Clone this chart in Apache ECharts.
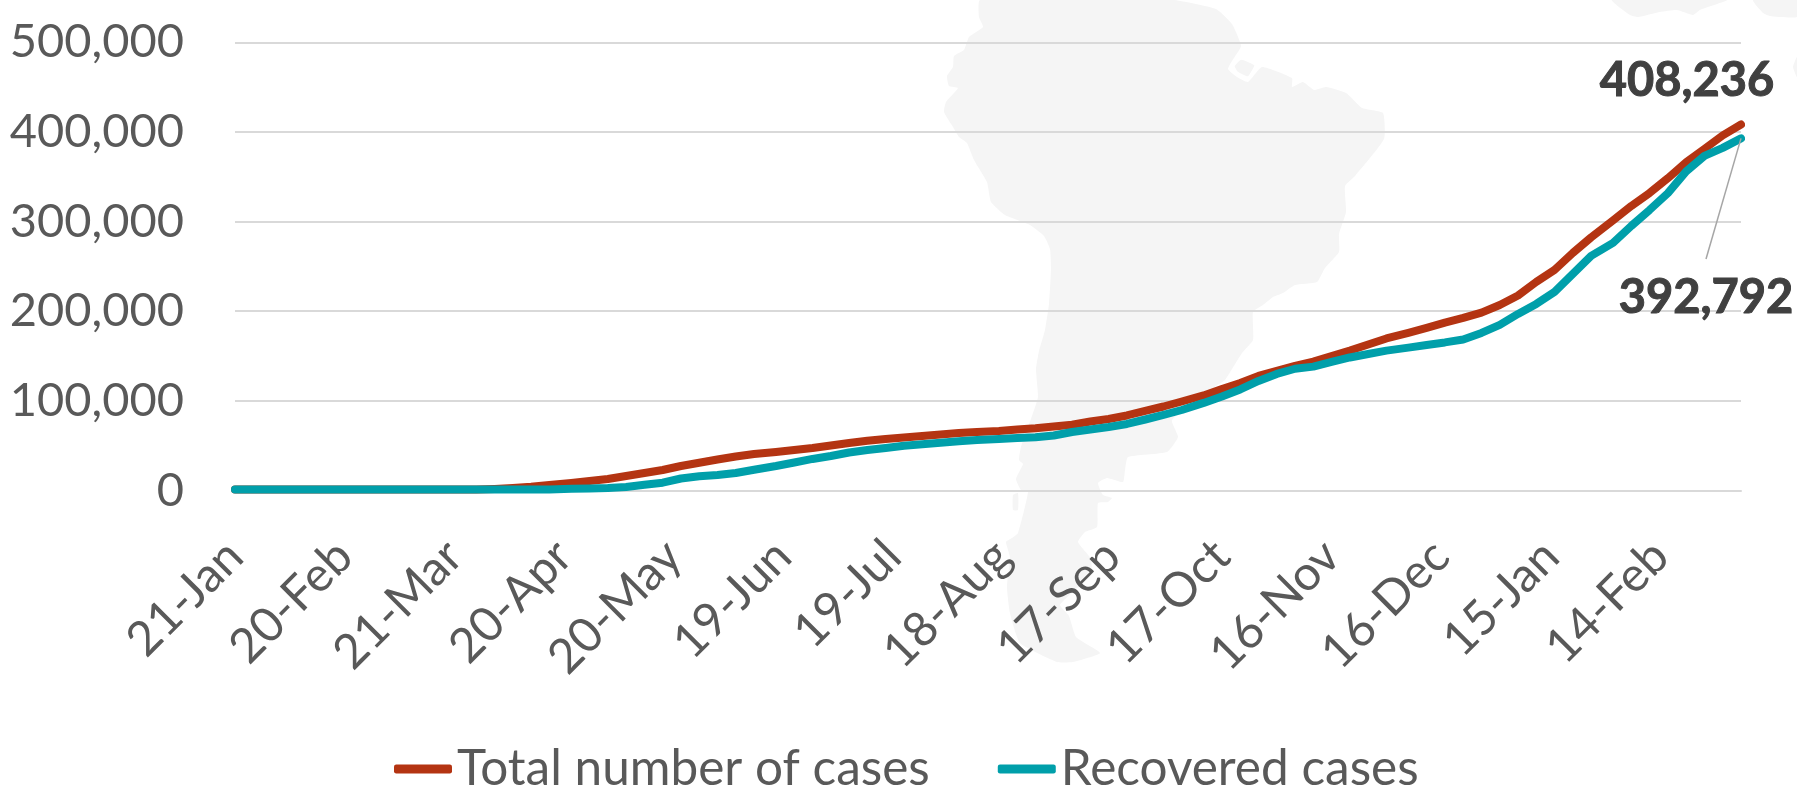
<!DOCTYPE html>
<html>
<head>
<meta charset="utf-8">
<style>html,body{margin:0;padding:0;background:#fff}#c{width:1797px;height:785px}</style>
<script src="https://cdn.jsdelivr.net/npm/echarts@6/dist/echarts.min.js"></script>
</head>
<body>
<div id="c"></div>
<script>
// Day number since 21-Jan-2020 of each value
const days = [0,5,10,15,20,25,31,36,41,46,51,56,61,66,71,76,81,86,92,97,102,107,112,117,122,127,132,137,142,148,153,158,163,168,173,178,183,188,193,198,203,209,214,219,224,229,234,239,244,249,254,259,265,270,275,280,285,290,295,300,305,310,315,321,326,331,336,341,346,351,356,361,366,371,377,382,387,392,397,402,407,412];
const tickLabels = ['21-Jan','20-Feb','21-Mar','20-Apr','20-May','19-Jun','19-Jul','18-Aug','17-Sep','17-Oct','16-Nov','16-Dec','15-Jan','14-Feb'];
const totalCases = [1000,1000,1000,1000,1000,1000,1000,1000,1000,1000,1000,1000,1000,1000,
1700,2800,4200,6100,8400,10600,12800,16200,19500,22900,27300,31000,34600,37900,40700,43000,45200,47400,50200,53000,55600,57500,59200,60800,62500,64200,65300,66400,68100,69400,71400,73400,77000,79800,83700,88700,93700,99300,106000,113300,120000,127800,133400,139000,143800,150100,156200,162900,169600,175800,181400,187300,192500,198400,207000,217600,232700,246100,265100,282400,301300,317500,332000,348400,366100,381100,396200,408236];
const recoveredCases = [1000,1000,1000,1000,1000,1000,1000,1000,1000,1000,1000,1000,1000,1000,1000,1000,1000,1000,
2000,2200,2800,3900,6500,8700,13400,15800,17300,19500,23200,27300,31200,35200,38500,42400,45200,47400,50000,51700,53300,55000,56400,57500,58600,59400,61400,65300,68100,70900,74200,79200,84300,89800,97700,104900,112700,122200,130000,135800,138200,143400,148400,152300,156000,159400,162400,165200,168500,175800,184700,197000,208100,221500,241600,261700,276200,295200,313000,331700,356000,373300,382200,392792];
const seriesNames = ['Total number of cases','Recovered cases'];
const fmt = v => v.toLocaleString('en-US');
const pairs = arr => arr.map((v,i) => [days[i], v]);

const shapeFill = '#f5f5f5';
const continent = [[980,0],[979,17],[983,27],[969,37],[964,50],[954,56],[953,67],[947,76],[949,86],[958,88],[946,102],[944,112],[953,127],[959,137],[967,143],[974,160],[987,182],[991,202],[1005,215],[1030,225],[1044,236],[1050,249],[1051,269],[1049,304],[1045,330],[1039,351],[1036,369],[1038,397],[1032,416],[1021,447],[1019,460],[1023,464],[1016,479],[1021,490],[1028,492],[1018,533],[1012,538],[1006,542],[1010,557],[1007,587],[1010,613],[1020,643],[1057,662],[1073,662],[1100,653],[1076,637],[1069,616],[1060,605],[1075,590],[1091,575],[1091,559],[1078,542],[1085,532],[1097,527],[1098,503],[1108,502],[1112,498],[1103,495],[1098,483],[1107,478],[1123,482],[1125,470],[1128,457],[1167,452],[1178,437],[1172,420],[1216,386],[1225,380],[1242,353],[1253,340],[1253,312],[1263,305],[1273,297],[1283,293],[1295,285],[1317,282],[1325,268],[1339,252],[1339,234],[1346,212],[1345,186],[1355,176],[1384,139],[1383,113],[1362,108],[1346,93],[1326,87],[1314,90],[1303,82],[1292,87],[1292,78],[1262,67],[1248,82],[1237,77],[1228,69],[1232,61],[1241,46],[1232,24],[1216,9],[1173,0]];
const delta = [[1234,66],[1241,59],[1255,65],[1248,77],[1237,72]];
const island = [[1013,495],[1018,493],[1018,510],[1013,510]];
const corner1 = [[1612,0],[1630,15],[1638,17],[1660,12],[1677,10],[1693,15],[1700,10],[1727,0]];
const corner2 = [[1753,0],[1763,13],[1770,16],[1797,17],[1797,0]];
const corner3 = [[1797,57],[1793,67],[1797,77]];
const poly = (points, extra) => ({type:'polygon', z:-1, silent:true, shape:{points, smooth:0.15}, style:Object.assign({fill:shapeFill}, extra||{})});

const last = days.length - 1;
const chart = echarts.init(document.getElementById('c'), null, {renderer:'canvas'});
chart.setOption({
  animation:false,
  backgroundColor:'#ffffff',
  textStyle:{fontFamily:'Lato'},
  graphic:{elements:[poly(continent), poly(delta,{stroke:'#ffffff',lineWidth:1.5}), poly(island), poly(corner1), poly(corner2), poly(corner3)]},
  grid:{left:235, right:56, top:42.3, bottom:294.5, containLabel:false},
  legend:{
    left:389, top:739, itemWidth:58, itemHeight:9, itemGap:68, icon:'roundRect',
    data:seriesNames,
    textStyle:{fontFamily:'Lato', fontSize:49.5, color:'#595959'}
  },
  xAxis:{
    type:'value', min:0, max:days[last], interval:30,
    splitLine:{show:false}, minorTick:{show:false},
    axisLine:{show:true, lineStyle:{color:'#d9d9d9', width:2}},
    axisTick:{show:false},
    axisLabel:{rotate:45, margin:58, fontFamily:'Lato', fontSize:48, color:'#595959', showMaxLabel:false, showMinLabel:true,
      formatter:v => tickLabels[v/30] || ''}
  },
  yAxis:{
    type:'value', min:0, max:500000, interval:100000,
    axisLine:{show:false}, axisTick:{show:false},
    axisLabel:{margin:51, fontFamily:'Lato', fontSize:47, color:'#595959', formatter:fmt},
    splitLine:{lineStyle:{color:'#d9d9d9', width:2}}
  },
  series:[
    {name:seriesNames[0], type:'line', data:pairs(totalCases), showSymbol:false, symbol:'none', clip:false,
     itemStyle:{color:'#b43412'}, lineStyle:{color:'#b43412', width:8, cap:'round', join:'round'}, z:3,
     markPoint:{symbol:'circle', symbolSize:0, silent:true, data:[{coord:[days[last], totalCases[last]],
       label:{show:true, formatter:fmt(totalCases[last]), offset:[-54,-44], fontFamily:'Lato', fontWeight:'bold', fontSize:47, color:'#404040', textBorderColor:'#404040', textBorderWidth:1}}]}},
    {name:seriesNames[1], type:'line', data:pairs(recoveredCases), showSymbol:false, symbol:'none', clip:false,
     itemStyle:{color:'#009faa'}, lineStyle:{color:'#009faa', width:8, cap:'round', join:'round'}, z:4,
     markLine:{symbol:'none', silent:true, label:{show:false}, lineStyle:{color:'#a6a6a6', width:1.5, type:'solid'},
       data:[[{coord:[days[last], recoveredCases[last]]},{x:1706,y:259}]]},
     markPoint:{symbol:'circle', symbolSize:0, silent:true, data:[{coord:[days[last], recoveredCases[last]],
       label:{show:true, formatter:fmt(recoveredCases[last]), offset:[-35,159], fontFamily:'Lato', fontWeight:'bold', fontSize:47, color:'#404040', textBorderColor:'#404040', textBorderWidth:1}}]}}
  ]
});
</script>
</body>
</html>
